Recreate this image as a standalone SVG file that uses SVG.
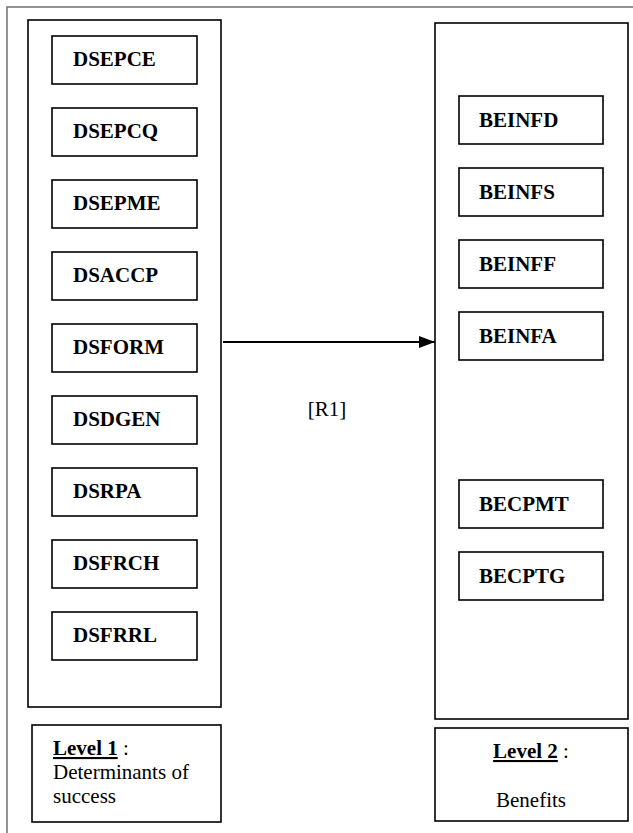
<svg xmlns="http://www.w3.org/2000/svg" width="633" height="833" viewBox="0 0 633 833">
<defs>
<style>
.frame{fill:none;stroke:#6e6e6e;stroke-width:1.5}
.panel{fill:#fff;stroke:#000;stroke-width:1.6}
.box{fill:#fff;stroke:#000;stroke-width:1.6}
text{font-family:'Liberation Serif',Tinos,'Times New Roman','DejaVu Serif',serif;font-size:21px;fill:#000}
.lbl{font-weight:bold}
.conn{stroke:#000;stroke-width:2;fill:none}
</style>
<marker id="arr" markerWidth="16" markerHeight="12" refX="16" refY="6" orient="auto" markerUnits="userSpaceOnUse">
<path d="M0,0 L16,6 L0,12 Z" fill="#000"/>
</marker>
</defs>
<rect width="633" height="833" fill="#fff"/>
<rect class="frame" x="7" y="7" width="640" height="840"/>

<g id="level1-panel"><rect class="panel" x="28" y="20" width="193" height="687"/></g>
<g id="level2-panel"><rect class="panel" x="435" y="23" width="193" height="696"/></g>

<g id="DSEPCE"><rect class="box" x="52" y="36" width="145" height="48"/><text class="lbl" x="73" y="66">DSEPCE</text></g>
<g id="DSEPCQ"><rect class="box" x="52" y="108" width="145" height="48"/><text class="lbl" x="73" y="138">DSEPCQ</text></g>
<g id="DSEPME"><rect class="box" x="52" y="180" width="145" height="48"/><text class="lbl" x="73" y="210">DSEPME</text></g>
<g id="DSACCP"><rect class="box" x="52" y="252" width="145" height="48"/><text class="lbl" x="73" y="282">DSACCP</text></g>
<g id="DSFORM"><rect class="box" x="52" y="324" width="145" height="48"/><text class="lbl" x="73" y="354">DSFORM</text></g>
<g id="DSDGEN"><rect class="box" x="52" y="396" width="145" height="48"/><text class="lbl" x="73" y="426">DSDGEN</text></g>
<g id="DSRPA"><rect class="box" x="52" y="468" width="145" height="48"/><text class="lbl" x="73" y="498">DSRPA</text></g>
<g id="DSFRCH"><rect class="box" x="52" y="540" width="145" height="48"/><text class="lbl" x="73" y="570">DSFRCH</text></g>
<g id="DSFRRL"><rect class="box" x="52" y="612" width="145" height="48"/><text class="lbl" x="73" y="642">DSFRRL</text></g>

<g id="BEINFD"><rect class="box" x="459" y="96" width="144" height="48"/><text class="lbl" x="479" y="127">BEINFD</text></g>
<g id="BEINFS"><rect class="box" x="459" y="168" width="144" height="48"/><text class="lbl" x="479" y="199">BEINFS</text></g>
<g id="BEINFF"><rect class="box" x="459" y="240" width="144" height="48"/><text class="lbl" x="479" y="271">BEINFF</text></g>
<g id="BEINFA"><rect class="box" x="459" y="312" width="144" height="48"/><text class="lbl" x="479" y="343">BEINFA</text></g>
<g id="BECPMT"><rect class="box" x="459" y="480" width="144" height="48"/><text class="lbl" x="479" y="511">BECPMT</text></g>
<g id="BECPTG"><rect class="box" x="459" y="552" width="144" height="48"/><text class="lbl" x="479" y="583">BECPTG</text></g>

<g id="level1-label"><rect class="box" x="32" y="725" width="189" height="97"/>
<text x="53" y="755"><tspan font-weight="bold" text-decoration="underline">Level 1</tspan> :</text>
<text x="53" y="779">Determinants of</text>
<text x="53" y="803">success</text></g>

<g id="level2-label"><rect class="box" x="435" y="728" width="193" height="93" stroke-width="2"/>
<text x="531" y="758" text-anchor="middle"><tspan font-weight="bold" text-decoration="underline">Level 2</tspan> :</text>
<text x="531" y="807" text-anchor="middle">Benefits</text></g>

<g id="connectors">
<line class="conn" x1="223" y1="342" x2="435" y2="342" marker-end="url(#arr)"/>
<text x="327" y="416" text-anchor="middle">[R1]</text>
</g>
</svg>
